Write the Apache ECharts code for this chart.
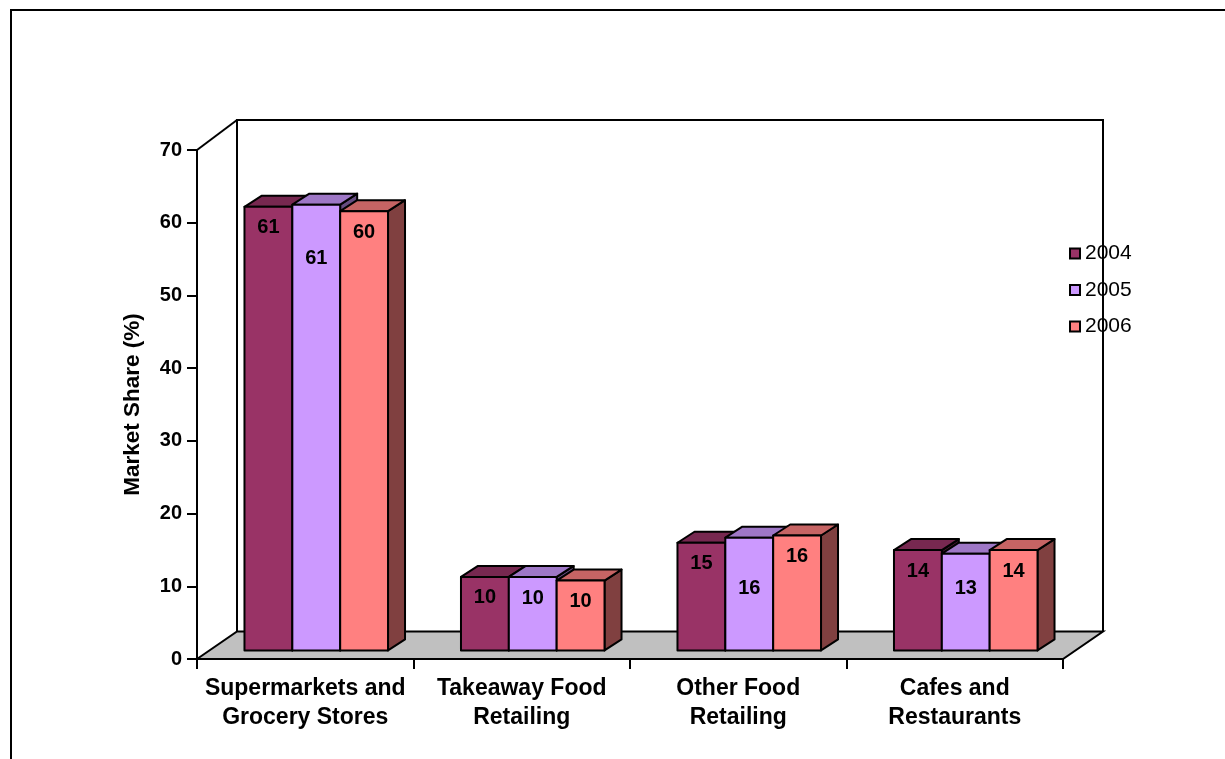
<!DOCTYPE html>
<html>
<head>
<meta charset="utf-8">
<script src="https://cdn.jsdelivr.net/npm/echarts@6/dist/echarts.min.js"></script>
<style>
html,body{margin:0;padding:0;background:#fff;}
#main{width:1225px;height:759px;}
</style>
</head>
<body>
<div id="main"></div>
<script>
// ---- data ----
var categories = ['Supermarkets and\nGrocery Stores', 'Takeaway Food\nRetailing', 'Other Food\nRetailing', 'Cafes and\nRestaurants'];
var years = ['2004', '2005', '2006'];
var values2004 = [61.0, 10.1, 14.8, 13.8];
var values2005 = [61.3, 10.1, 15.5, 13.3];
var values2006 = [60.4, 9.6, 15.8, 13.8];
var yTicks = [0, 10, 20, 30, 40, 50, 60, 70];

var seriesValues = [values2004, values2005, values2006];
var frontColors = ['#993366', '#CC99FF', '#FF8080'];
var topColors = ['#772850', '#9E77C6', '#C66464'];
var sideColors = ['#4C1933', '#664C80', '#804040'];

var FONT = '"Liberation Sans", Arial, sans-serif';
// 3D projection offsets (pixels)
var WALL_DX = 40, WALL_DY_BOT = -27.5, WALL_DY_TOP = -30;
var BAR_DX = 11, BAR_DY = -8.6;      // front face of bars relative to front plane
var DEPTH_DX = 17, DEPTH_DY = -11;   // bar depth
var BAR_FRAC = 0.221;                // bar width as fraction of category width

function floorRender(params, api) {
  var cs = params.coordSys;
  var x0 = cs.x, y0 = cs.y, x1 = cs.x + cs.width, y1 = cs.y + cs.height;
  var ls = {stroke: '#000', lineWidth: 2};
  return {
    type: 'group',
    children: [
      {type: 'polygon', shape: {points: [[x0, y1], [x0 + WALL_DX, y1 + WALL_DY_BOT], [x1 + WALL_DX, y1 + WALL_DY_BOT], [x1, y1]]},
        style: {fill: '#C0C0C0', stroke: '#000', lineWidth: 2}},
      {type: 'polyline', shape: {points: [[x0 + WALL_DX, y1 + WALL_DY_BOT], [x0 + WALL_DX, y0 + WALL_DY_TOP], [x1 + WALL_DX, y0 + WALL_DY_TOP], [x1 + WALL_DX, y1 + WALL_DY_BOT]]},
        style: {fill: null, stroke: '#000', lineWidth: 2}},
      {type: 'line', shape: {x1: x0, y1: y0, x2: x0 + WALL_DX, y2: y0 + WALL_DY_TOP}, style: ls}
    ]
  };
}

function makeBarRender(k) {
  return function (params, api) {
    var c = api.value(0), v = api.value(1);
    var p0 = api.coord([c, 0]);
    var p1 = api.coord([c, v]);
    var cw = api.size([1, 0])[0];
    var bw = cw * BAR_FRAC;
    var xl = p0[0] + BAR_DX + (k - 1.5) * bw;
    var xr = xl + bw;
    var yb = p0[1] + BAR_DY;
    var yt = p1[1] + BAR_DY;
    var st = {stroke: '#000', lineWidth: 2, lineJoin: 'round'};
    var label = String(Math.round(v));
    var ly;
    if (k === 1) {
      var floorY = api.coord([c, 8.5])[1] + BAR_DY;
      ly = Math.max(yt + 22, Math.min(yt + 54, floorY));
    } else {
      ly = yt + 21;
    }
    return {
      type: 'group',
      children: [
        {type: 'polygon', shape: {points: [[xr, yt], [xr + DEPTH_DX, yt + DEPTH_DY], [xr + DEPTH_DX, yb + DEPTH_DY], [xr, yb]]},
          style: Object.assign({fill: sideColors[k]}, st)},
        {type: 'polygon', shape: {points: [[xl, yt], [xl + DEPTH_DX, yt + DEPTH_DY], [xr + DEPTH_DX, yt + DEPTH_DY], [xr, yt]]},
          style: Object.assign({fill: topColors[k]}, st)},
        {type: 'polygon', shape: {points: [[xl, yt], [xr, yt], [xr, yb], [xl, yb]]},
          style: Object.assign({fill: frontColors[k]}, st)},
        {type: 'text', x: (xl + xr) / 2, y: ly,
          style: {text: label, fill: '#000', font: 'bold 20px ' + FONT, align: 'center', verticalAlign: 'middle'}}
      ]
    };
  };
}

var series = [{
  type: 'custom', name: 'floor', silent: true,
  data: [[0, 0]], encode: {x: 0, y: 1},
  renderItem: floorRender, z: 1
}];
years.forEach(function (yr, k) {
  series.push({
    type: 'custom', name: yr,
    data: seriesValues[k].map(function (v, i) { return [i, v]; }),
    encode: {x: 0, y: 1},
    itemStyle: {color: frontColors[k], borderColor: '#000', borderWidth: 2},
    renderItem: makeBarRender(k), z: 2 + k
  });
});

var chart = echarts.init(document.getElementById('main'), null, {renderer: 'canvas'});
chart.setOption({
  animation: false,
  backgroundColor: '#fff',
  grid: {left: 197, right: 162, top: 150, bottom: 100, containLabel: false},
  xAxis: {
    type: 'category', data: categories, boundaryGap: true,
    axisLine: {show: true, lineStyle: {color: '#000', width: 2}},
    axisTick: {show: true, length: 10, lineStyle: {color: '#000', width: 2}},
    axisLabel: {color: '#000', fontFamily: FONT, fontWeight: 'bold', fontSize: 23, lineHeight: 29, margin: 15, interval: 0},
    splitLine: {show: false}
  },
  yAxis: {
    type: 'value', min: yTicks[0], max: yTicks[yTicks.length - 1], interval: 10,
    name: 'Market Share (%)', nameLocation: 'middle', nameGap: 53, nameRotate: 90,
    nameTextStyle: {color: '#000', fontFamily: FONT, fontWeight: 'bold', fontSize: 22.5},
    axisLine: {show: true, lineStyle: {color: '#000', width: 2}},
    axisTick: {show: true, length: 10, lineStyle: {color: '#000', width: 2}},
    axisLabel: {color: '#000', fontFamily: FONT, fontWeight: 'bold', fontSize: 20, margin: 15},
    splitLine: {show: false}
  },
  legend: {
    data: years, orient: 'vertical', left: 1064, top: 238, itemGap: 15.5,
    itemWidth: 10, itemHeight: 10, icon: 'rect',
    itemStyle: {borderColor: '#000', borderWidth: 2},
    textStyle: {color: '#000', fontFamily: FONT, fontSize: 21, lineHeight: 21, padding: [0, 0, 0, 0]}
  },
  graphic: [{
    type: 'rect', silent: true, z: 100,
    shape: {x: 11, y: 10, width: 1400, height: 900},
    style: {fill: null, stroke: '#000', lineWidth: 2}
  }],
  series: series
});
</script>
</body>
</html>
